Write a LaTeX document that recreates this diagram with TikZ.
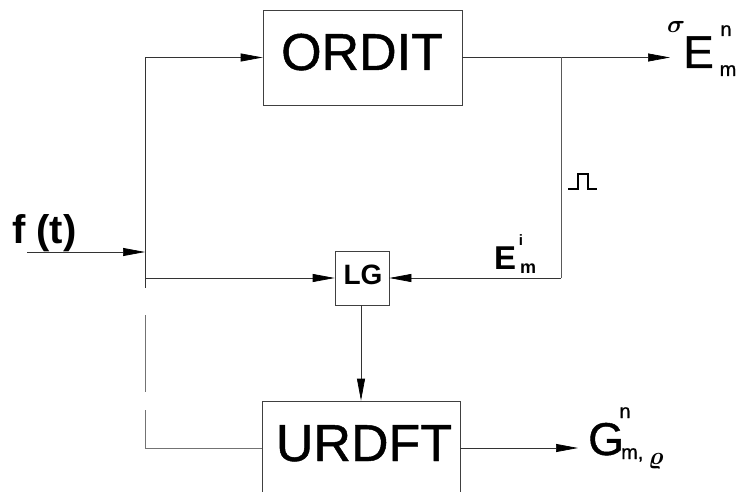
\documentclass[tikz,border=0pt]{standalone}
\usepackage{fontspec}
\usepackage{amsmath}
\usepackage{amssymb}
\usepackage{xcolor}
\usepackage{tikz}
\usetikzlibrary{arrows.meta}
\setmainfont{Liberation Sans}
\newfontfamily\scanfont[FakeBold=0.9]{Liberation Sans}
\tikzset{
  blockbox/.style={draw=black!75,line width=0.7pt,inner sep=0pt},
  sigline/.style={draw=black!80,line width=0.7pt},
  sigarrow/.style={sigline,-{Triangle[length=22pt,width=8pt,black]}},
  biglabel/.style={font=\scanfont\fontsize{52}{52}\selectfont,text depth=0pt,inner sep=0pt},
  midlabel/.style={font=\scanfont\fontsize{46}{46}\selectfont,inner sep=0pt,anchor=base west},
  smalllabel/.style={font=\scanfont\fontsize{20}{20}\selectfont,inner sep=0pt,anchor=base}
}
\begin{document}
\begin{tikzpicture}[x=1pt,y=-1pt]
  \useasboundingbox (0,0) rectangle (736,492);
  % blocks
  \node[blockbox,minimum width=199pt,minimum height=95pt] (ordit) at (362.5,57.5) {};
  \node[biglabel,anchor=base] (orditlabel) at (362,70) {ORDIT};
  \node[blockbox,minimum width=54pt,minimum height=54pt] (lg) at (362,278) {};
  \node[font=\bfseries\fontsize{28}{28}\selectfont,inner sep=0pt,anchor=base] (lglabel) at (363,284) {LG};
  \node[blockbox,minimum width=198pt,minimum height=94pt] (urdft) at (361,448) {};
  \node[biglabel,anchor=base] (urdftlabel) at (364,461) {URDFT};
  % input
  \coordinate (fstart) at (27,252);
  \coordinate (fjoin) at (145,252);
  \coordinate (topleft) at (145,57.5);
  \coordinate (lgtap) at (145,278);
  \coordinate (gapatop) at (145,288);
  \coordinate (gapabot) at (145,315);
  \coordinate (gapbtop) at (145,392);
  \coordinate (gapbbot) at (145,410);
  \coordinate (botleft) at (145,448);
  \draw[sigarrow] (fstart)--(fjoin);
  \node[font=\bfseries\fontsize{40}{40}\selectfont,inner sep=0pt,anchor=base west] (flabel) at (12,243) {f (t)};
  \draw[sigarrow] (fjoin)--(topleft)--(ordit.west);
  \draw[sigarrow] (lgtap)--(lg.west);
  \draw[sigline] (fjoin)--(gapatop);
  \draw[sigline,draw=black!55] (gapabot)--(gapbtop);
  \draw[sigline,draw=black!55] (gapbbot)--(botleft)--(urdft.west);
  % output
  \coordinate (etap) at (561,57.5);
  \coordinate (eout) at (670,57.5);
  \coordinate (ecorner) at (561,278);
  \coordinate (gout) at (578,448);
  \draw[sigarrow] (ordit.east)--(eout);
  \draw[sigline,draw=black!65] (etap)--(ecorner);
  \draw[sigarrow] (ecorner)--(lg.east);
  \draw[sigarrow] (urdft.north|-lg.south)--(urdft.north);
  \draw[sigarrow] (urdft.east)--(gout);
  % pulse
  \draw[line width=1.1pt] (568,189)--(578,189)--(578,174)--(588,174)--(588,189)--(597,189);
  % labels
  \node[midlabel] (elabel) at (683,68) {E};
  \node[smalllabel] (esup) at (726,36) {n};
  \node[smalllabel] (esub) at (728,76) {m};
  \node[font=\fontsize{24}{24}\selectfont,inner sep=0pt,anchor=base] (esig) at (676,33) {$\boldsymbol{\sigma}$};
  \node[font=\fontsize{33}{33}\selectfont,inner sep=0pt,anchor=base west] (ilabel) at (494,269) {\textbf{E}};
  \node[font=\bfseries\fontsize{15}{15}\selectfont,inner sep=0pt,anchor=base] (isup) at (521,245) {i};
  \node[font=\bfseries\fontsize{18}{18}\selectfont,inner sep=0pt,anchor=base] (isub) at (528,273) {m};
  \node[midlabel] (glabel) at (588,455) {G};
  \node[smalllabel] (gsup) at (625,418) {n};
  \node[smalllabel,anchor=base west] (gsub) at (621,459) {m,};
  \node[font=\fontsize{34}{34}\selectfont,inner sep=0pt,anchor=base] (grho) at (656,464) {$\boldsymbol{\varrho}$};
\end{tikzpicture}
\end{document}
